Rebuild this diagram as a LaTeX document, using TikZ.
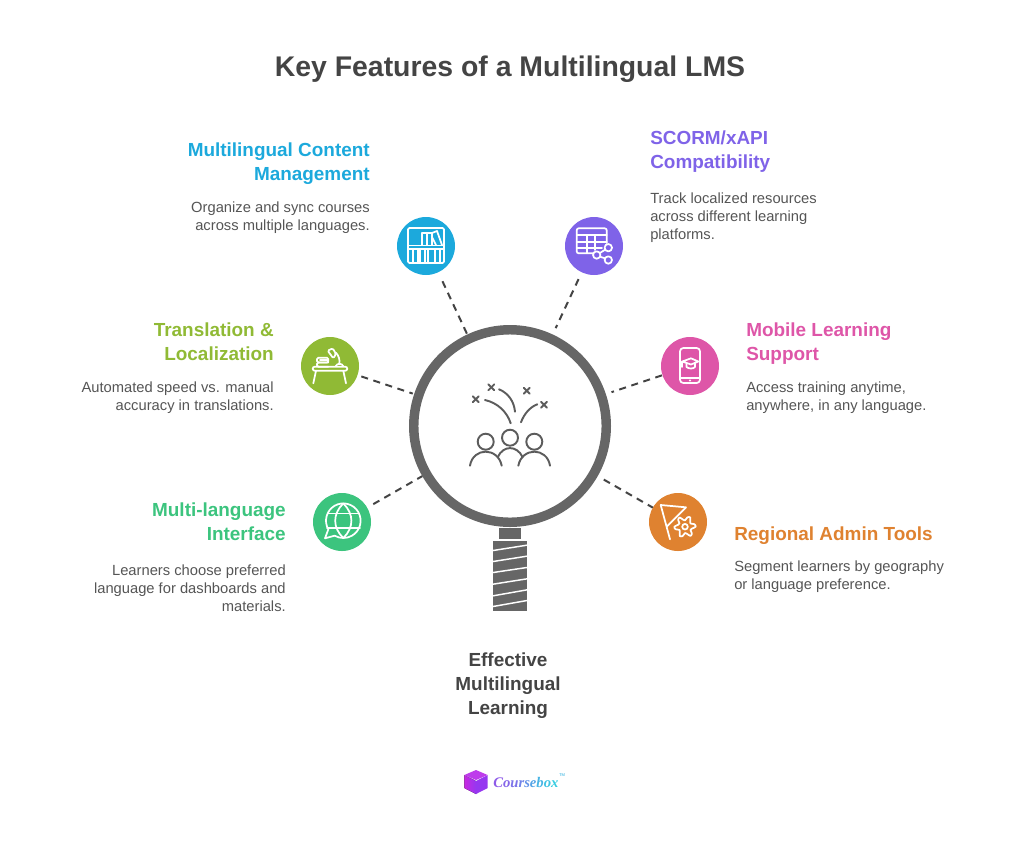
\documentclass[tikz,border=0pt]{standalone}
\usepackage{fontspec}
\setmainfont{Liberation Sans}
\newfontfamily\logofont{Liberation Serif}
\usetikzlibrary{calc}
\definecolor{cblue}{HTML}{1CA9DC}
\definecolor{cviolet}{HTML}{7F63E8}
\definecolor{cgreen}{HTML}{90BA35}
\definecolor{cpink}{HTML}{DE56A8}
\definecolor{cmint}{HTML}{3CC47E}
\definecolor{corange}{HTML}{DF8230}
\definecolor{ink}{HTML}{444444}
\definecolor{bodyink}{HTML}{555555}
\definecolor{steel}{HTML}{666666}
\definecolor{logoa}{HTML}{C828E1}
\definecolor{logob}{HTML}{9637F0}
\definecolor{logoc}{HTML}{BE3CEB}
\tikzset{
  x=0.75pt,y=-0.75pt,
  badge/.style={circle,fill=#1,minimum size=43.5pt,inner sep=0pt,outer sep=0pt},
  conn/.style={draw=ink,line width=1.5pt,dash pattern=on 5.3pt off 4.2pt},
  headr/.style={anchor=base east,align=right,inner sep=0pt,font=\fontsize{14.2}{18}\selectfont\bfseries,text=#1},
  headl/.style={anchor=base west,align=left,inner sep=0pt,font=\fontsize{14.2}{18}\selectfont\bfseries,text=#1},
  bodyr/.style={anchor=base east,align=right,inner sep=0pt,font=\fontsize{11.05}{13.5}\selectfont,text=bodyink},
  bodyl/.style={anchor=base west,align=left,inner sep=0pt,font=\fontsize{11.05}{13.5}\selectfont,text=bodyink},
  iconline/.style={draw=white,line width=1.3pt,line cap=round,line join=round},
  ppl/.style={draw=steel!90!black,line width=1.45pt,line cap=round},
}
\begin{document}
\begin{tikzpicture}
\useasboundingbox (0,0) rectangle (1020,851);
% title
\node[anchor=base,inner sep=0pt,font=\fontsize{21.3}{27}\selectfont\bfseries,text=ink] (title) at (510,76) {Key Features of a Multilingual LMS};
% magnifier
\node[circle,draw=steel,line width=7.1pt,minimum size=144.4pt,inner sep=0pt,outer sep=0pt] (lens) at (510,426) {};
\node[circle,minimum size=151.5pt,inner sep=0pt,outer sep=0pt] (lensout) at (510,426) {};
\fill[steel] (499,528.3) rectangle (521,539);
\fill[steel] (493,541) rectangle (527,610.7);
\foreach \a/\b in {92/75,125/108,158/142,193/176,228/209,260/241}{
  \draw[white,line width=1.1pt] (492,{520+\a/3}) -- (528,{520+\b/3});
}
% badges
\node[badge=cblue] (c1) at (426,246) {};
\node[badge=cviolet] (c2) at (594,246) {};
\node[badge=cgreen] (c3) at (330,366) {};
\node[badge=cpink] (c4) at (690,366) {};
\node[badge=cmint] (c5) at (342,522) {};
\node[badge=corange] (c6) at (678,522) {};
% connectors: from / to / gap at start / gap at end (px)
\foreach \p/\q/\s/\e in {lensout/c1/1/7,c2/lensout/7.5/7,c3/lensout/4/1.5,c4/lensout/0.5/6,c5/lensout/7/0,lensout/c6/7/0}{
  \path[conn,shorten <=\s*0.75pt,shorten >=\e*0.75pt] (\p) -- (\q);
}
% people icon
\draw[ppl] (485.7,441.7) circle (8);
\draw[ppl] (510,437.7) circle (8);
\draw[ppl] (534.3,441.7) circle (8);
\draw[ppl] (470,465.7) .. controls (473,447) and (498,447) .. (501.7,465.7);
\draw[ppl] (497.7,457.3) .. controls (503,445) and (517,445) .. (522.7,457.3);
\draw[ppl] (518.3,465.7) .. controls (522,447) and (547,447) .. (550,465.7);
\draw[ppl] (485,400) .. controls (498,403) and (507,412) .. (510.7,423.3);
\draw[ppl] (499,389.3) .. controls (508,393) and (514,401) .. (515,411.7);
\draw[ppl] (537.3,404.3) .. controls (530,407) and (524,414) .. (521,422.3);
\foreach \cx/\cy in {491.3/387.3,475.7/399.3,526.7/390.7,544/404.7}{
  \draw[ppl] (\cx-3,\cy-3) -- (\cx+3,\cy+3);
  \draw[ppl] (\cx-3,\cy+3) -- (\cx+3,\cy-3);
}
% icon 1: bookshelf
\begin{scope}[shift={(426,246)},iconline]
  \draw[rounded corners=1pt] (-18,-18) rectangle (18,17);
  \draw (-18,-0.5) -- (18,-0.5);
  \draw (-18,3) -- (18,3);
  \draw (-3.7,-1) -- (-3.7,-13) -- (1,-13) -- (1,-1);
  \draw (1,-13) -- (5.7,-13) -- (5.7,-1);
  \draw (6,-13) -- (11,-15) -- (16,-1);
  \draw (6,-9) -- (10,-1);
  \draw (-13,17) -- (-13,3);
  \draw (-7.7,17) -- (-7.7,3);
  \draw (-6,17) -- (-6,3);
  \draw (-1,17) -- (-1,3);
  \draw (2.3,17) -- (2.3,3);
  \draw (9,17) -- (9,3);
  \draw (14,17) -- (14,3);
\end{scope}
% icon 2: table with share
\begin{scope}[shift={(594,246)},iconline]
  \draw[rounded corners=1.5pt] (-1,7.3) -- (-17.3,7.3) -- (-17.3,-17.7) -- (12.7,-17.7) -- (12.7,-3);
  \draw (-17.3,-11) -- (12.7,-11);
  \draw (-17.3,-4.3) -- (12.7,-4.3);
  \draw (-17.3,1.7) -- (8,1.7);
  \draw (-7.3,-11) -- (-7.3,7.3);
  \draw (1,-11) -- (1,4);
  \draw (14.3,1.7) circle (3.7);
  \draw (2.7,9) circle (3.7);
  \draw (14.3,14) circle (3.7);
  \draw (5.9,7) -- (11.1,3.7);
  \draw (6,10.7) -- (11,12.3);
\end{scope}
% icon 3: desk
\begin{scope}[shift={(330,366)},iconline]
  \draw[rounded corners=1.5pt] (-17.3,0.7) rectangle (17.3,4.7);
  \draw (-14,4.7) -- (-16.7,17.3);
  \draw (13.3,4.7) -- (16,17.3);
  \draw[rounded corners=1pt] (-1.7,0.7) -- (-13,0.7) -- (-13,-3.5) -- (-1.7,-3.5);
  \draw[rounded corners=1pt] (-1.7,-3.5) -- (-13,-3.5) -- (-13,-8.3) -- (-1.7,-8.3) -- cycle;
  \draw (-10,-6) -- (-1.7,-6);
  \draw (5.7,0.2) .. controls (7,-3) and (12,-3) .. (13.3,0.2);
  \draw (6,-13.3) .. controls (9,-10) and (10,-6) .. (9.3,-2.5);
  \draw[rounded corners=1pt] (-2.3,-15.3) -- (2.7,-17.7) -- (6,-12) -- (3.3,-7.7) -- cycle;
\end{scope}
% icon 4: phone
\begin{scope}[shift={(690,366)},iconline]
  \draw[rounded corners=2.5pt] (-10,-18) rectangle (10,17);
  \draw (-10,11.7) -- (10,11.7);
  \fill[white] (0,14.5) circle (1.1);
  \draw (-7.7,-4.5) -- (1,-7.7) -- (8.3,-4.5) -- (1,-1.5) -- cycle;
  \draw (-3.5,-2.5) -- (-3.5,1) .. controls (-1,3) and (3,3) .. (5,1) -- (5,-2.5);
  \draw (-7.7,-4.5) -- (-7.7,1);
\end{scope}
% icon 5: globe
\begin{scope}[shift={(342,522)},iconline]
  \draw (1.3,-1.3) +(150:17.3) arc[start angle=150,end angle=480,radius=17.3] -- (-17,16.3) -- cycle;
  \draw (1.3,-18.6) .. controls (-9.5,-8) and (-9.5,5.5) .. (1.3,16);
  \draw (1.3,-18.6) .. controls (12.1,-8) and (12.1,5.5) .. (1.3,16);
  \draw (-14,-8.5) -- (17,-8.5);
  \draw (-15,6.3) -- (18,6.3);
\end{scope}
% icon 6: flag and gear
\begin{scope}[shift={(678,522)},iconline]
  \draw (-17.3,-17) -- (-8,17.3);
  \draw (-17.3,-17) -- (8,-14.7) -- (-11.3,4.7);
  \draw plot[smooth cycle,samples at={0,15,...,345}] ({7+(8.5+2.5*cos(6*\x+30))*cos(\x)},{4.7+(8.5+2.5*cos(6*\x+30))*sin(\x)});
  \draw (7,4.7) circle (2.8);
\end{scope}
% labels
\node[headr=cblue] (h1) at (370,180) {Multilingual Content\\Management};
\node[bodyr] (b1) at (370,230) {Organize and sync courses\\across multiple languages.};
\node[headl=cviolet] (h2) at (650,168) {SCORM/xAPI\\Compatibility};
\node[bodyl] (b2) at (650,239) {Track localized resources\\across different learning\\platforms.};
\node[headr=cgreen] (h3) at (274,360) {Translation \&\\Localization};
\node[bodyr] (b3) at (274,410) {Automated speed vs. manual\\accuracy in translations.};
\node[headl=cpink] (h4) at (746,360) {Mobile Learning\\Support};
\node[bodyl] (b4) at (746,410) {Access training anytime,\\anywhere, in any language.};
\node[headr=cmint] (h5) at (286,540) {Multi-language\\Interface};
\node[bodyr] (b5) at (286,611) {Learners choose preferred\\language for dashboards and\\materials.};
\node[headl=corange] (h6) at (734,540) {Regional Admin Tools};
\node[bodyl] (b6) at (734,589) {Segment learners by geography\\or language preference.};
\node[anchor=base,align=center,inner sep=0pt,font=\fontsize{14.2}{18}\selectfont\bfseries,text=ink] (b7) at (508,714) {Effective\\Multilingual\\Learning};
% logo
\fill[left color=logoa,right color=logob] (464.3,775) -- (476,781) -- (476,794) -- (464.3,788) -- cycle;
\fill[logob] (487.7,775) -- (476,781) -- (476,794) -- (487.7,788) -- cycle;
\fill[logoc] (476,770) -- (487.7,775) -- (476,780) -- (464.3,775) -- cycle;
\node[anchor=base west,inner sep=0pt,font=\logofont\fontsize{11}{13}\selectfont\bfseries\itshape] (logo) at (493,787.5) {\textcolor[HTML]{8E5BE8}{C}\textcolor[HTML]{8565E8}{o}\textcolor[HTML]{7B72E8}{u}\textcolor[HTML]{6F82E8}{r}\textcolor[HTML]{6392E8}{s}\textcolor[HTML]{55A4E6}{e}\textcolor[HTML]{49B4E4}{b}\textcolor[HTML]{3EC2E2}{o}\textcolor[HTML]{35CCE0}{x}};
\node[anchor=base west,inner sep=0pt,font=\fontsize{3}{4}\selectfont,text=cblue] (tm) at (559,776) {TM};
\end{tikzpicture}
\end{document}
